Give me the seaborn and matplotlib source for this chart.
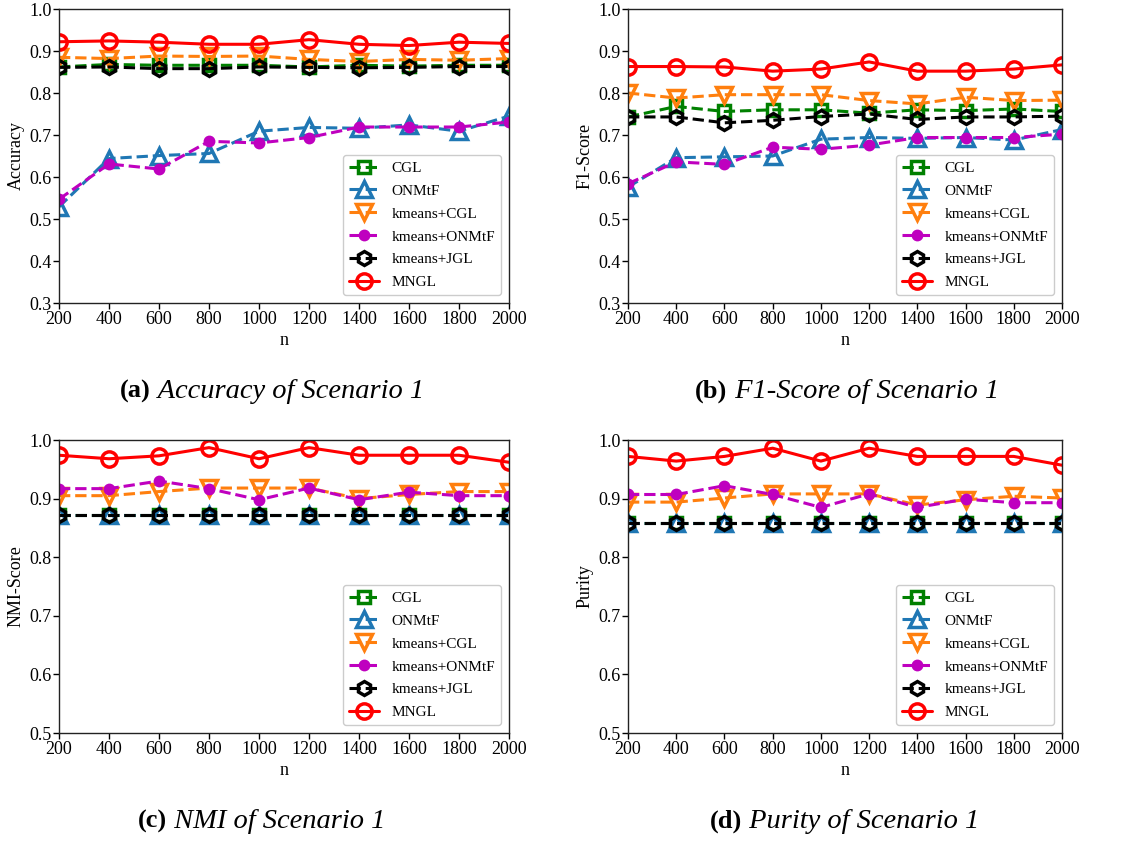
import numpy as np
import pandas as pd
import matplotlib
matplotlib.use("Agg")
import matplotlib.pyplot as plt
import seaborn as sns

sns.set_style("ticks")
plt.rcParams['font.family'] = ['Liberation Serif', 'DejaVu Serif']
plt.rcParams['text.color'] = 'black'
plt.rcParams['axes.labelcolor'] = 'black'
plt.rcParams['xtick.color'] = 'black'
plt.rcParams['ytick.color'] = 'black'

n_values = [200, 400, 600, 800, 1000, 1200, 1400, 1600, 1800, 2000]
methods = ["CGL", "ONMtF", "kmeans+CGL", "kmeans+ONMtF", "kmeans+JGL", "MNGL"]

# Accuracy
acc_cgl = [0.862, 0.868, 0.866, 0.866, 0.866, 0.862, 0.866, 0.864, 0.866, 0.866]
acc_onmtf = [0.529, 0.644, 0.651, 0.656, 0.709, 0.718, 0.716, 0.724, 0.709, 0.745]
acc_km_cgl = [0.885, 0.882, 0.888, 0.887, 0.888, 0.880, 0.875, 0.880, 0.878, 0.882]
acc_km_onmtf = [0.547, 0.631, 0.619, 0.685, 0.681, 0.694, 0.719, 0.719, 0.719, 0.731]
acc_km_jgl = [0.861, 0.862, 0.858, 0.858, 0.862, 0.861, 0.860, 0.861, 0.863, 0.863]
acc_mngl = [0.922, 0.924, 0.921, 0.916, 0.916, 0.927, 0.916, 0.913, 0.921, 0.918]

# F1-Score
f1_cgl = [0.743, 0.768, 0.756, 0.760, 0.760, 0.752, 0.760, 0.758, 0.762, 0.756]
f1_onmtf = [0.576, 0.646, 0.648, 0.650, 0.690, 0.694, 0.692, 0.694, 0.688, 0.713]
f1_km_cgl = [0.800, 0.788, 0.796, 0.796, 0.796, 0.782, 0.774, 0.790, 0.782, 0.783]
f1_km_onmtf = [0.584, 0.636, 0.630, 0.671, 0.666, 0.676, 0.694, 0.694, 0.694, 0.702]
f1_km_jgl = [0.743, 0.743, 0.729, 0.735, 0.744, 0.750, 0.737, 0.743, 0.743, 0.745]
f1_mngl = [0.863, 0.863, 0.862, 0.852, 0.857, 0.874, 0.852, 0.852, 0.857, 0.867]

# NMI
nmi_cgl = [0.872] * 10
nmi_onmtf = [0.872] * 10
nmi_km_cgl = [0.905, 0.905, 0.912, 0.918, 0.918, 0.918, 0.900, 0.907, 0.912, 0.912]
nmi_km_onmtf = [0.917, 0.917, 0.930, 0.917, 0.898, 0.918, 0.898, 0.911, 0.905, 0.905]
nmi_km_jgl = [0.872] * 10
nmi_mngl = [0.974, 0.968, 0.973, 0.987, 0.968, 0.987, 0.974, 0.974, 0.974, 0.962]

# Purity
pur_cgl = [0.858] * 10
pur_onmtf = [0.858] * 10
pur_km_cgl = [0.894, 0.894, 0.901, 0.908, 0.908, 0.908, 0.889, 0.898, 0.904, 0.901]
pur_km_onmtf = [0.907, 0.907, 0.922, 0.907, 0.885, 0.908, 0.885, 0.899, 0.893, 0.893]
pur_km_jgl = [0.858] * 10
pur_mngl = [0.972, 0.964, 0.972, 0.986, 0.964, 0.986, 0.972, 0.972, 0.972, 0.957]

y_ticks_ab = [0.3, 0.4, 0.5, 0.6, 0.7, 0.8, 0.9, 1.0]
y_ticks_cd = [0.5, 0.6, 0.7, 0.8, 0.9, 1.0]

styles = {
    "CGL": dict(color="#008000", marker="s", linestyle="--", mfc="none", ms=9, mew=2.5),
    "ONMtF": dict(color="#1f77b4", marker="^", linestyle="--", mfc="none", ms=11, mew=2.5),
    "kmeans+CGL": dict(color="#ff7f0e", marker="v", linestyle="--", mfc="none", ms=11, mew=2.5),
    "kmeans+ONMtF": dict(color="#bf00bf", marker="o", linestyle="--", mfc="#bf00bf", ms=7, mew=1.5),
    "kmeans+JGL": dict(color="black", marker="h", linestyle="--", mfc="none", ms=10, mew=2.5),
    "MNGL": dict(color="red", marker="o", linestyle="-", mfc="none", ms=11, mew=2.5),
}

panels = [
    ("Accuracy", [acc_cgl, acc_onmtf, acc_km_cgl, acc_km_onmtf, acc_km_jgl, acc_mngl], y_ticks_ab),
    ("F1-Score", [f1_cgl, f1_onmtf, f1_km_cgl, f1_km_onmtf, f1_km_jgl, f1_mngl], y_ticks_ab),
    ("NMI-Score", [nmi_cgl, nmi_onmtf, nmi_km_cgl, nmi_km_onmtf, nmi_km_jgl, nmi_mngl], y_ticks_cd),
    ("Purity", [pur_cgl, pur_onmtf, pur_km_cgl, pur_km_onmtf, pur_km_jgl, pur_mngl], y_ticks_cd),
]
captions = [("(a)", "Accuracy of Scenario 1"), ("(b)", "F1-Score of Scenario 1"),
            ("(c)", "NMI of Scenario 1"), ("(d)", "Purity of Scenario 1")]

W, H = 1121, 848
fig = plt.figure(figsize=(W / 100, H / 100), dpi=100)
rects = [(59, 9, 509, 303), (628, 9, 1062, 303), (59, 440, 509, 733), (628, 440, 1062, 733)]
cap_pos = [(272, 398), (847, 398), (262, 828), (845, 828)]

for (ylab, series, yt), (x0, y0, x1, y1) in zip(panels, rects):
    ax = fig.add_axes([x0 / W, 1 - y1 / H, (x1 - x0) / W, (y1 - y0) / H])
    for m, vals in zip(methods, series):
        st = styles[m]
        sns.lineplot(x=n_values, y=vals, ax=ax, color=st["color"], marker=st["marker"],
                     linestyle=st["linestyle"], markerfacecolor=st["mfc"],
                     markeredgecolor=st["color"], markersize=st["ms"],
                     markeredgewidth=st["mew"], linewidth=2.2, label=m, clip_on=True)
    ax.set_xlim(200, 2000)
    ax.set_ylim(yt[0], yt[-1])
    ax.set_xticks(n_values)
    ax.set_yticks(yt)
    ax.set_xticklabels([str(v) for v in n_values], fontsize=13)
    ax.set_yticklabels([f"{v:.1f}" for v in yt], fontsize=13)
    ax.tick_params(axis="both", direction="out", length=4, width=1, pad=1.5)
    ax.set_xlabel("n", fontsize=13, labelpad=3)
    ax.set_ylabel(ylab, fontsize=13, labelpad=3)
    for sp in ax.spines.values():
        sp.set_visible(True)
        sp.set_color("#222222")
        sp.set_linewidth(1.0)
    leg = ax.legend(loc="lower right", fontsize=11, frameon=True, handlelength=2.0,
                    framealpha=1, edgecolor="#cccccc", fancybox=True, labelspacing=0.6)

fig.canvas.draw()
renderer = fig.canvas.get_renderer()
for (lbl, txt), (cx, cy) in zip(captions, cap_pos):
    t1 = fig.text(0, 1 - cy / H, lbl, fontsize=19, fontweight="bold", va="baseline",
                  family=["Liberation Serif"], color="black")
    t2 = fig.text(0, 1 - cy / H, " " + txt, fontsize=20.5, style="italic", va="baseline",
                  family=["Liberation Serif"], color="black")
    w1 = t1.get_window_extent(renderer).width
    w2 = t2.get_window_extent(renderer).width
    left = cx - (w1 + w2) / 2
    t1.set_x(left / W)
    t2.set_x((left + w1) / W)

fig.savefig("out.png", dpi=100)
